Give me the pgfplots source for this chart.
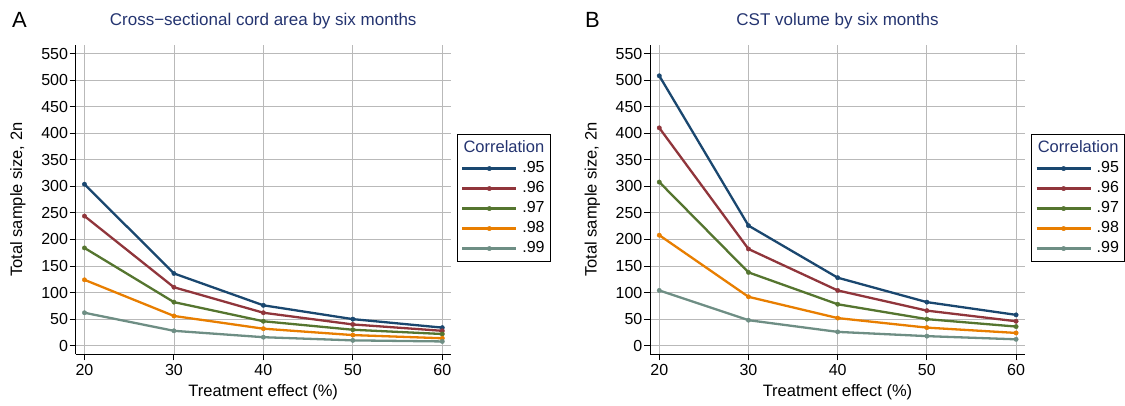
\documentclass[border=0pt]{standalone}
\usepackage{pgfplots}
\pgfplotsset{compat=1.18}
\usepackage{fontspec}
\setmainfont{Liberation Sans}

\definecolor{stnavy}{RGB}{26,71,111}
\definecolor{stmaroon}{RGB}{144,53,59}
\definecolor{stgreen}{RGB}{85,117,47}
\definecolor{storange}{RGB}{232,126,0}
\definecolor{stteal}{RGB}{110,142,132}
\definecolor{titlecol}{RGB}{36,52,112}
\definecolor{gridcol}{RGB}{185,185,185}

% common look of both panels
\pgfplotsset{
  scale only axis,
  width=375pt, height=309.3pt,
  ymin=-16.2, ymax=566,
  xtick={20,30,40,50,60},
  ytick={0,50,...,550},
  axis x line*=bottom,
  axis y line*=left,
  axis line style={black, line width=1pt, -},
  tick align=outside,
  major tick length=6pt,
  tick style={black, line width=0.9pt},
  grid=major,
  major grid style={gridcol, line width=0.8pt},
  /pgf/number format/assume math mode=true,
  tick label style={font=\fontsize{16}{18}\selectfont},
  yticklabel style={inner xsep=1.5pt},
  xlabel={Treatment effect (\%)},
  ylabel={Total sample size, 2n},
  every axis y label/.style={at={(axis description cs:-0.154,0.5)}, rotate=90,
    anchor=center, font=\fontsize{16.5}{19}\selectfont},
  every axis x label/.style={at={(axis description cs:0.5,-0.122)},
    anchor=center, font=\fontsize{16.5}{19}\selectfont},
  title style={font=\fontsize{17}{20}\selectfont, text=titlecol, at={(axis description cs:0.5,1)}, anchor=base, yshift=13.3pt},
  every axis plot/.append style={line width=2.3pt, mark=*, mark size=2.2pt,
    mark options={line width=0.4pt}},
  legend style={at={(axis description cs:1.016,0.712)}, anchor=north west,
    draw=black, line width=1pt, fill=white, font=\fontsize{16}{18}\selectfont,
    inner xsep=4pt, inner ysep=3pt, row sep=1pt,
    nodes={inner sep=2pt, text height=11.5pt, text depth=3.5pt}},
  legend cell align=left,
  legend image code/.code={%
    \path[draw=none, fill=none] (0pt,0pt) -- (58pt,0pt);
    \pgfsetlinewidth{2.3pt}%
    \draw[mark repeat=2, mark phase=2, #1, line width=2.3pt]
      plot coordinates {(0pt,0pt) (27pt,0pt) (54pt,0pt)};},
  corrtitle/.style={legend image code/.code={%
    \path[draw=none, fill=none] (0pt,-5pt) -- (0pt,11pt);
    \node[overlay, anchor=west, inner sep=0pt, draw=none, fill=none, text=titlecol,
      font=\fontsize{16.5}{19}\selectfont] at (0pt,0pt) {Correlation};}},
}

\begin{document}
\begin{tikzpicture}
\useasboundingbox (0,0) rectangle (1125pt,405pt);

% A: cross-sectional cord area
\begin{axis}[at={(75.7pt,50.7pt)}, anchor=south west,
  xmin=19.02, xmax=60.94,
  title={Cross−sectional cord area by six months}]
\addlegendimage{corrtitle}\addlegendentry{}
\addplot[stnavy] coordinates {(20,304) (30,136) (40,76) (50,50) (60,34)};
\addlegendentry{.95}
\addplot[stmaroon] coordinates {(20,244) (30,110) (40,62) (50,40) (60,28)};
\addlegendentry{.96}
\addplot[stgreen] coordinates {(20,184) (30,82) (40,46) (50,30) (60,22)};
\addlegendentry{.97}
\addplot[storange] coordinates {(20,124) (30,56) (40,32) (50,20) (60,14)};
\addlegendentry{.98}
\addplot[stteal] coordinates {(20,62) (30,28) (40,16) (50,10) (60,8)};
\addlegendentry{.99}
\end{axis}

% B: CST volume
\begin{axis}[at={(650pt,50.7pt)}, anchor=south west,
  xmin=18.96, xmax=61.0,
  title={CST volume by six months}]
\addlegendimage{corrtitle}\addlegendentry{}
\addplot[stnavy] coordinates {(20,508) (30,226) (40,128) (50,82) (60,58)};
\addlegendentry{.95}
\addplot[stmaroon] coordinates {(20,410) (30,182) (40,104) (50,66) (60,46)};
\addlegendentry{.96}
\addplot[stgreen] coordinates {(20,308) (30,138) (40,78) (50,50) (60,36)};
\addlegendentry{.97}
\addplot[storange] coordinates {(20,208) (30,92) (40,52) (50,34) (60,24)};
\addlegendentry{.98}
\addplot[stteal] coordinates {(20,104) (30,48) (40,26) (50,18) (60,12)};
\addlegendentry{.99}
\end{axis}

\node[anchor=base west, font=\fontsize{22}{24}\selectfont, inner sep=0pt] at (12pt,377pt) {A};
\node[anchor=base west, font=\fontsize{22}{24}\selectfont, inner sep=0pt] at (585pt,377pt) {B};
\end{tikzpicture}
\end{document}
